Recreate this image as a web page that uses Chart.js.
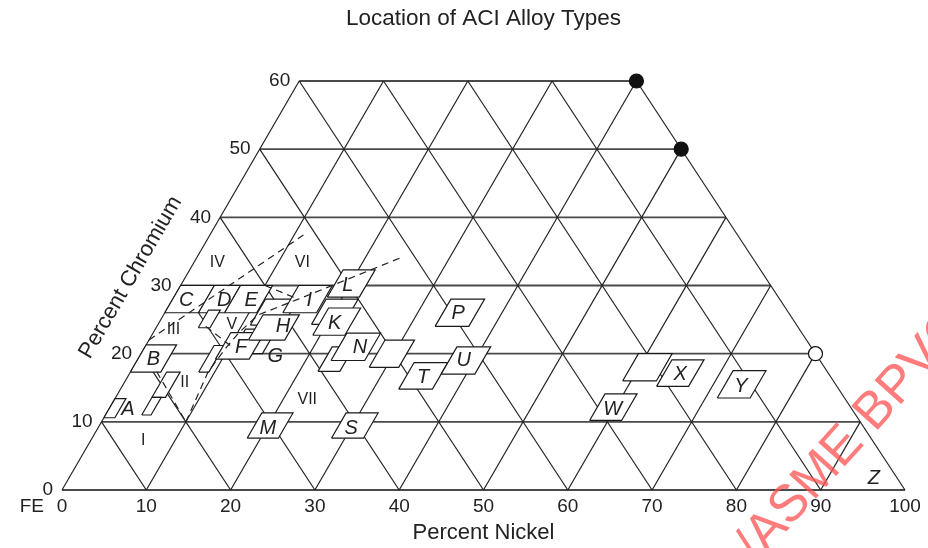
<!DOCTYPE html>
<html>
<head>
<meta charset="utf-8">
<title>Location of ACI Alloy Types</title>
<script src="https://cdn.jsdelivr.net/npm/chart.js@4.4.1/dist/chart.umd.min.js"></script>
<style>
  html, body { margin: 0; padding: 0; background: #fff; }
  #wrap { width: 928px; height: 548px; }
</style>
</head>
<body>
<div id="wrap"><canvas id="aciChart"></canvas></div>
<script>
// ternary grid: % nickel along the bottom, % chromium up the left side, iron is the rest
const crLevels = [0, 10, 20, 30, 40, 50, 60];
const niTicks = [0, 10, 20, 30, 40, 50, 60, 70, 80, 90, 100];
const crTop = 60;
const skew = 0.469; // x shift per % Cr, the printed grid is slightly skewed

// alloy boxes, [from, to] in % Ni and % Cr (listed bottom layer first)
const boxNi = [
  [0, 1.3],     // A
  [0, 3.6],     // B
  [0, 4],       // C
  [4, 7.1],     // D
  [7.1, 10.9],  // E
  [5, 6.4],
  [4.3, 5.9],
  [4.3, 5.4],
  [8.1, 9.3],
  [10.7, 14.4],
  [9.2, 13.2],  // F
  [11, 14.9],
  [11.8, 16.1], // H
  [14, 18],     // I
  [18.2, 22],
  [18.2, 22],   // L
  [19.1, 22.9], // K
  [22.2, 24.8],
  [23, 27],     // N
  [28, 31.5],
  [18.4, 22.1], // M
  [28.4, 32.2], // S
  [33, 37],     // P
  [33, 37],     // T
  [37, 41],     // U
  [59, 63],
  [57.8, 61.6], // W
  [63.4, 67.2], // X
  [71.4, 75.3]  // Y
];
const boxCr = [
  [10.6, 13.4],
  [17.3, 21.3],
  [26, 30],
  [26, 30],
  [26, 30],
  [23.8, 26.4],
  [13.6, 17.3],
  [11, 13.6],
  [17.3, 21.2],
  [20, 23.6],
  [19.2, 23.1],
  [24.2, 28],
  [22, 25.7],
  [26, 30],
  [24.3, 28],
  [28.3, 32.3],
  [22.7, 26.7],
  [17.4, 21],
  [19, 23],
  [18, 22],
  [7.6, 11.3],
  [7.6, 11.3],
  [24, 28],
  [14.8, 18.7],
  [17, 21],
  [16, 20],
  [10.2, 14.1],
  [15.2, 19.1],
  [13.5, 17.5]
];

// alloy letters
const letterText = ['A', 'B', 'C', 'D', 'E', 'F', 'G', 'H', 'I', 'K', 'L', 'M', 'N', 'P', 'S', 'T', 'U', 'W', 'X', 'Y', 'Z'];
const letterNi = [2.2, 1.8, 1.6, 6.1, 9.3, 11.4, 16.0, 14.9, 16.2, 20.8, 19.8, 20.1, 25.5, 34.8, 30.0, 35.0, 38.7, 59.7, 65.3, 73.3, 95.4];
const letterCr = [12.0, 19.3, 28.0, 28.0, 28.0, 21.0, 19.8, 24.1, 28.0, 24.6, 30.1, 9.2, 21.0, 26.0, 9.2, 16.7, 19.1, 12.0, 17.1, 15.4, 1.9];

// structure regions
const regionText = ['I', 'II', 'III', 'IV', 'V', 'VI', 'VII'];
const regionNi = [6.2, 7.2, 2.2, 2.8, 8.8, 12.9, 22.9];
const regionCr = [7.3, 15.7, 23.5, 33.3, 24.2, 33.3, 13.2];

// dashed region boundaries, [Ni, Cr] points
const boundaries = [
  [[0, 22], [11.1, 37.4]],
  [[10, 10], [9.2, 17.4], [9.7, 21], [10.2, 23.2], [11.25, 25.7], [14.9, 28], [24.4, 34.2]],
  [[3.1, 17.35], [10, 10]],
  [[10, 30], [14.9, 28]],
  [[5.8, 24], [10, 21.2]]
];

// marked compositions on the right edge
const markNi = [40, 50, 80];
const markCr = [60, 50, 20];
const markFilled = [true, true, false];

const tx = (ni, cr) => ({ x: ni + skew * cr, y: cr });

const datasets = [];
function addLine(points, style) {
  datasets.push(Object.assign({
    data: points.map(p => tx(p[0], p[1])),
    showLine: true,
    pointRadius: 0,
    pointHoverRadius: 0,
    tension: 0,
    fill: false,
    clip: false,
    borderColor: '#222',
    borderWidth: 1.2
  }, style));
}

// grid: constant Cr, constant Ni, constant Fe
crLevels.forEach(c => addLine([[0, c], [100 - c, c]], { borderColor: '#4a4a4a', borderWidth: 1.8 }));
niTicks.slice(0, 10).forEach(n => addLine([[n, 0], [n, Math.min(crTop, 100 - n)]]));
niTicks.slice(1).forEach(k => {
  const c = Math.min(crTop, k);
  addLine([[k, 0], [k - c, c]]);
});

// boxes with white fill so they hide the grid behind them
boxNi.forEach((ni, i) => {
  const cr = boxCr[i];
  addLine([[ni[0], cr[0]], [ni[1], cr[0]], [ni[1], cr[1]], [ni[0], cr[1]], [ni[0], cr[0]]], {
    borderColor: '#1a1a1a',
    borderWidth: 1.2,
    backgroundColor: '#ffffff',
    fill: 'shape'
  });
});

boundaries.forEach(b => addLine(b, { borderDash: [7, 5], borderWidth: 1.2 }));

datasets.push({
  data: markNi.map((n, i) => tx(n, markCr[i])),
  showLine: false,
  pointRadius: 7,
  pointHoverRadius: 7,
  pointBackgroundColor: markFilled.map(f => f ? '#111' : '#fff'),
  pointBorderColor: '#111',
  pointBorderWidth: 1.2,
  clip: false
});

// draw in the order they were added
datasets.forEach((d, i) => { d.order = datasets.length - i; });

const textPlugin = {
  id: 'aciText',
  afterDatasetsDraw(chart) {
    const { ctx, scales: { x, y } } = chart;
    const px = (ni, cr) => x.getPixelForValue(ni + skew * cr);
    const py = cr => y.getPixelForValue(cr);
    ctx.save();
    ctx.fillStyle = '#222';

    // chromium ticks along the slanted left edge
    ctx.font = '19px "Liberation Sans", Arial, sans-serif';
    ctx.textAlign = 'right';
    ctx.textBaseline = 'middle';
    crLevels.forEach(c => ctx.fillText(String(c), px(0, c) - 9, py(c)));
    ctx.fillText('FE', px(0, 0) - 18, py(0) + 17);

    // axis title along the left edge
    const ang = Math.atan2(py(crTop) - py(0), px(0, crTop) - px(0, 0));
    ctx.save();
    ctx.translate(px(0, 30) - 50, py(30) - 8);
    ctx.rotate(ang);
    ctx.textAlign = 'center';
    ctx.font = '22px "Liberation Sans", Arial, sans-serif';
    ctx.fillText('Percent Chromium', 0, 0);
    ctx.restore();

    // region numerals
    ctx.textAlign = 'center';
    ctx.font = '16px "Liberation Sans", Arial, sans-serif';
    regionText.forEach((t, i) => ctx.fillText(t, px(regionNi[i], regionCr[i]), py(regionCr[i])));

    // alloy letters
    ctx.font = 'italic 20px "Liberation Sans", Arial, sans-serif';
    letterText.forEach((t, i) => ctx.fillText(t, px(letterNi[i], letterCr[i]), py(letterCr[i]) + 1));

    // watermark in the corner
    ctx.save();
    ctx.translate(757, 564);
    ctx.rotate(-48 * Math.PI / 180);
    ctx.textAlign = 'left';
    ctx.textBaseline = 'alphabetic';
    ctx.font = '52px "Liberation Sans", Arial, sans-serif';
    ctx.fillStyle = 'rgba(255, 80, 80, 0.75)';
    ctx.fillText('/ASME BPVC', 0, 0);
    ctx.restore();

    ctx.restore();
  }
};

Chart.defaults.font.family = '"Liberation Sans", Arial, sans-serif';
Chart.defaults.color = '#222';

new Chart(document.getElementById('aciChart'), {
  type: 'scatter',
  data: { datasets },
  options: {
    responsive: true,
    maintainAspectRatio: false,
    animation: false,
    events: [],
    layout: { padding: { left: 62, right: 23, top: 0, bottom: 0 } },
    plugins: {
      legend: { display: false },
      tooltip: { enabled: false },
      title: {
        display: true,
        text: 'Location of ACI Alloy Types',
        color: '#222',
        font: { size: 22.5, weight: 'normal' },
        padding: { top: 5, bottom: 49 }
      }
    },
    scales: {
      x: {
        type: 'linear',
        min: 0,
        max: 100,
        afterFit: s => { s.height = 58; },
        grid: { display: false, drawTicks: false },
        border: { display: false },
        ticks: { stepSize: 10, autoSkip: false, maxRotation: 0, padding: 5, color: '#222', font: { size: 19 } },
        title: { display: true, text: 'Percent Nickel', color: '#222', font: { size: 22 }, padding: { top: 0, bottom: 2 } }
      },
      y: {
        type: 'linear',
        min: 0,
        max: crTop,
        display: false
      }
    }
  },
  plugins: [textPlugin]
});
</script>
</body>
</html>
